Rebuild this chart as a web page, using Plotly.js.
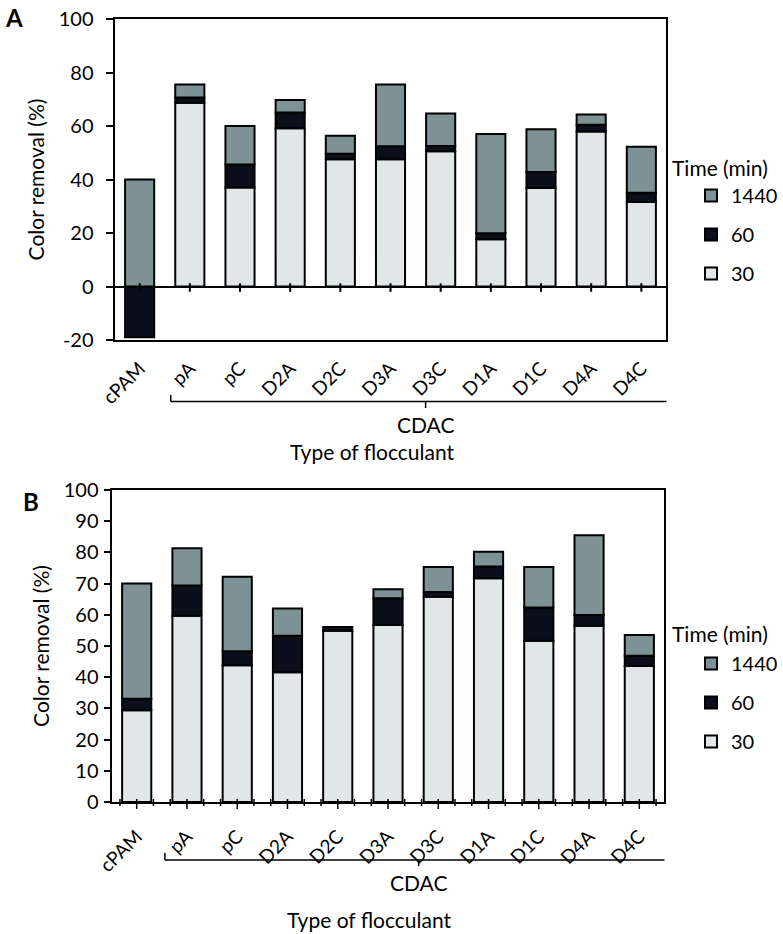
<!DOCTYPE html>
<html>
<head>
<meta charset="utf-8">
<script src="https://cdn.plot.ly/plotly-3.0.1.min.js"></script>
<style>
  html, body { margin: 0; padding: 0; background: #fff; }
  #chart { width: 783px; height: 934px; }
</style>
</head>
<body>
<div id="chart"></div>
<script>
// flocculant types (same order in both panels)
const categories = ['cPAM', 'pA', 'pC', 'D2A', 'D2C', 'D3A', 'D3C', 'D1A', 'D1C', 'D4A', 'D4C'];

// panel A, color removal (%) added at each time step
const a30 = [0, 68.7, 37.0, 59.2, 47.6, 47.6, 50.6, 17.7, 36.8, 57.9, 31.6];
const a60 = [-19, 2.0, 8.6, 5.8, 2.0, 4.8, 1.9, 2.2, 6.0, 2.6, 3.4];
const a1440 = [40, 4.8, 14.4, 4.7, 6.8, 23.1, 12.2, 37.1, 16.0, 3.8, 17.2];

// panel B
const b30 = [29.4, 59.7, 43.8, 41.6, 54.9, 56.7, 65.8, 71.7, 51.7, 56.5, 43.6];
const b60 = [3.7, 9.7, 4.5, 11.7, 1.2, 8.6, 1.5, 3.8, 10.6, 3.4, 3.3];
const b1440 = [36.9, 11.9, 23.9, 8.7, 0, 2.9, 8.0, 4.7, 13.0, 25.6, 6.6];

const yTicksA = [-20, 0, 20, 40, 60, 80, 100];

const COLORS = { '30': '#e1e7e9', '60': '#0b0f1c', '1440': '#7d9296' };
const RANK = { '1440': 1, '60': 2, '30': 3 };
const FONT = 'Lato, "Open Sans", sans-serif';
const W = 783, H = 934;

// pixel -> paper helpers (margins are zero)
const px = x => x / W;
const py = y => 1 - y / H;

function barTrace(vals, label, xa, ya, legend) {
    return {
        type: 'bar', x: categories, y: vals, name: label,
        xaxis: xa, yaxis: ya, legend: legend, legendgroup: legend + label, legendrank: RANK[label],
        width: 0.58,
        marker: { color: COLORS[label], line: { color: '#000', width: 2 } }
    };
}

const traces = [
    barTrace(a30, '30', 'x', 'y', 'legend'),
    barTrace(a60, '60', 'x', 'y', 'legend'),
    barTrace(a1440, '1440', 'x', 'y', 'legend'),
    barTrace(b30, '30', 'x2', 'y2', 'legend2'),
    barTrace(b60, '60', 'x2', 'y2', 'legend2'),
    barTrace(b1440, '1440', 'x2', 'y2', 'legend2')
];

const tickFont = { family: FONT, size: 20, color: '#000' };
const catFont = { family: FONT, size: 19, color: '#000' };
const textFont = { family: FONT, size: 21, color: '#000' };

const xBase = {
    type: 'category', range: [-0.5, categories.length - 0.5],
    showline: true, mirror: true, linewidth: 2, linecolor: '#000',
    showgrid: false, zeroline: false, tickangle: -45, tickfont: catFont, ticks: ''
};
const yBase = {
    showline: true, mirror: true, linewidth: 2, linecolor: '#000',
    showgrid: false, ticks: 'outside', tickwidth: 2, tickcolor: '#000',
    tickfont: tickFont,
    title: { text: 'Color removal (%)', font: textFont, standoff: 8 }
};

const shapes = [];
const line = { color: '#000', width: 1.5 };

// panel A: category ticks sit on the zero line
categories.forEach((c, i) => {
    shapes.push({ type: 'line', xref: 'x', yref: 'y', x0: i, x1: i, y0: 1.2, y1: -2, line: { color: '#000', width: 2 } });
});
// panel B: ticks every third of a category, longer at the centres
categories.forEach((c, i) => {
    [-1 / 3, 0, 1 / 3].forEach(d => {
        const major = d === 0;
        shapes.push({ type: 'line', xref: 'x2', yref: 'paper', x0: i + d, x1: i + d,
            y0: py(802 - 3), y1: py(802 + (major ? 7 : 4)), line: { color: '#000', width: 1.5 } });
    });
});

// CDAC brackets
function bracket(xa, left, right, yLine, yEnd, yTick) {
    const mid = (left + right) / 2;
    shapes.push({ type: 'line', xref: xa, yref: 'paper', x0: left, x1: right, y0: py(yLine), y1: py(yLine), line });
    shapes.push({ type: 'line', xref: xa, yref: 'paper', x0: left, x1: left, y0: py(yLine), y1: py(yEnd), line });
    shapes.push({ type: 'line', xref: xa, yref: 'paper', x0: right, x1: right, y0: py(yLine), y1: py(yEnd), line });
    shapes.push({ type: 'line', xref: xa, yref: 'paper', x0: mid, x1: mid, y0: py(yLine), y1: py(yTick), line });
    return mid;
}
const midA = bracket('x', 0.62, 10.78, 401.5, 395, 408);
const midB = bracket('x2', 0.56, 10.66, 860, 853, 866);

const annotations = [
    { text: '<b>A</b>', xref: 'paper', yref: 'paper', x: px(3), y: py(17), xanchor: 'left', yanchor: 'middle', showarrow: false, font: { family: FONT, size: 24, color: '#000' } },
    { text: '<b>B</b>', xref: 'paper', yref: 'paper', x: px(21), y: py(502), xanchor: 'left', yanchor: 'middle', showarrow: false, font: { family: FONT, size: 24, color: '#000' } },
    { text: 'CDAC', xref: 'x', yref: 'paper', x: midA, y: py(424), xanchor: 'center', yanchor: 'middle', showarrow: false, font: textFont },
    { text: 'Type of flocculant', xref: 'paper', yref: 'paper', x: px(373), y: py(451), xanchor: 'center', yanchor: 'middle', showarrow: false, font: textFont },
    { text: 'CDAC', xref: 'x2', yref: 'paper', x: midB, y: py(882), xanchor: 'center', yanchor: 'middle', showarrow: false, font: textFont },
    { text: 'Type of flocculant', xref: 'paper', yref: 'paper', x: px(370), y: py(919), xanchor: 'center', yanchor: 'middle', showarrow: false, font: textFont },
    { text: 'Time (min)', xref: 'paper', yref: 'paper', x: px(673), y: py(167), xanchor: 'left', yanchor: 'middle', showarrow: false, font: textFont },
    { text: 'Time (min)', xref: 'paper', yref: 'paper', x: px(673), y: py(633), xanchor: 'left', yanchor: 'middle', showarrow: false, font: textFont }
];

const legendBase = {
    xanchor: 'left', yanchor: 'top', traceorder: 'grouped', tracegroupgap: 10,
    font: { family: FONT, size: 20, color: '#000' }, bgcolor: 'rgba(0,0,0,0)'
};

const layout = {
    width: W, height: H,
    margin: { l: 0, r: 0, t: 0, b: 0 },
    paper_bgcolor: '#fff', plot_bgcolor: '#fff',
    font: { family: FONT, color: '#000' },
    barmode: 'relative',
    showlegend: true,
    xaxis: Object.assign({}, xBase, { domain: [px(115), px(669)], anchor: 'y', ticklabelstandoff: 8 }),
    yaxis: Object.assign({}, yBase, { domain: [py(340), py(19)], anchor: 'x', range: [-20, 100],
        tickmode: 'array', tickvals: yTicksA, ticktext: yTicksA.map(String), ticklen: 7, ticklabelstandoff: 8,
        zeroline: true, zerolinecolor: '#000', zerolinewidth: 2 }),
    xaxis2: Object.assign({}, xBase, { domain: [px(112), px(667)], anchor: 'y2', ticklabelstandoff: 14 }),
    yaxis2: Object.assign({}, yBase, { domain: [py(802), py(490)], anchor: 'x2', range: [0, 100], dtick: 10,
        ticklen: 6, ticklabelstandoff: 1, zeroline: false }),
    legend: Object.assign({}, legendBase, { x: px(694), y: py(176) }),
    legend2: Object.assign({}, legendBase, { x: px(694), y: py(644) }),
    shapes: shapes,
    annotations: annotations
};

Plotly.newPlot('chart', traces, layout, { displayModeBar: false, staticPlot: true });
</script>
</body>
</html>
